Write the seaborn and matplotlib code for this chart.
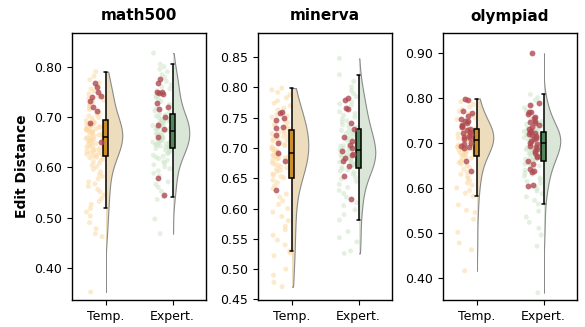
# -*- coding: utf-8 -*-

# Gráfico tipo "raincloud": media violín + caja + puntos
import matplotlib
matplotlib.use("Agg")
import matplotlib.pyplot as plt
import pandas as pd
import seaborn as sns
from matplotlib.patches import Rectangle

# ------------------ Datos ------------------
groups = ["Temp.", "Expert."]
datasets = ["math500", "minerva", "olympiad"]

math500_temp = [0.352, 0.462, 0.468, 0.478, 0.490, 0.503, 0.511, 0.518, 0.526, 0.532, 0.538, 0.545,
                0.551, 0.556, 0.562, 0.567, 0.571, 0.577, 0.582, 0.586, 0.591, 0.596,
                0.601, 0.604, 0.608, 0.611, 0.614, 0.617, 0.619, 0.620,
                0.622, 0.623, 0.625, 0.626, 0.628, 0.629, 0.631, 0.632, 0.634, 0.635, 0.637, 0.638,
                0.640, 0.641, 0.643, 0.644, 0.646, 0.647, 0.649, 0.651, 0.652, 0.653, 0.654, 0.655,
                0.656, 0.657, 0.658, 0.659, 0.660,
                0.662, 0.663, 0.664, 0.665, 0.666, 0.667, 0.668, 0.669, 0.670, 0.671, 0.672, 0.673,
                0.674, 0.675, 0.676, 0.677, 0.678, 0.679, 0.680, 0.681, 0.682, 0.683, 0.684, 0.685,
                0.686, 0.687, 0.689, 0.691, 0.693,
                0.697, 0.699, 0.702, 0.705, 0.708, 0.711, 0.715, 0.718, 0.722, 0.726, 0.729, 0.733,
                0.737, 0.741, 0.746, 0.751, 0.756, 0.762, 0.768, 0.774, 0.781, 0.790]
math500_temp_hl = [0.767, 0.759, 0.749, 0.742, 0.739, 0.732, 0.720, 0.712, 0.688, 0.650]

math500_expert = [0.468, 0.497, 0.536, 0.541, 0.552, 0.560, 0.566, 0.571, 0.583, 0.588, 0.593, 0.597,
                  0.601, 0.605, 0.608, 0.611, 0.614, 0.617, 0.620, 0.622, 0.624, 0.627, 0.629, 0.631,
                  0.632, 0.634, 0.636, 0.637,
                  0.639, 0.640, 0.641, 0.642, 0.643, 0.644, 0.645, 0.646, 0.647, 0.648, 0.649, 0.650,
                  0.651, 0.652, 0.653, 0.654, 0.655, 0.656, 0.657, 0.658, 0.659, 0.660, 0.663, 0.664,
                  0.666, 0.667, 0.669, 0.670, 0.672,
                  0.674, 0.675, 0.677, 0.678, 0.679, 0.680, 0.681, 0.682, 0.683, 0.685, 0.686, 0.687,
                  0.688, 0.689, 0.690, 0.691, 0.692, 0.693, 0.694, 0.695, 0.696, 0.697, 0.698, 0.700,
                  0.702, 0.704, 0.706,
                  0.709, 0.712, 0.717, 0.722, 0.725, 0.731, 0.735, 0.739, 0.742, 0.752, 0.756, 0.760,
                  0.764, 0.771, 0.779, 0.784, 0.790, 0.795, 0.800, 0.805, 0.827]
math500_expert_hl = [0.775, 0.767, 0.749, 0.749, 0.748, 0.745, 0.728, 0.720, 0.715, 0.699, 0.684,
                     0.676, 0.661, 0.578, 0.545]

minerva_temp = [0.471, 0.478, 0.490, 0.500, 0.522, 0.527, 0.530, 0.540, 0.548, 0.556, 0.565, 0.571,
                0.580, 0.587, 0.594, 0.600, 0.607, 0.613, 0.619, 0.624, 0.633, 0.638, 0.643, 0.647,
                0.651, 0.653, 0.655, 0.657, 0.659, 0.661, 0.663, 0.665, 0.667, 0.669, 0.671, 0.673,
                0.675, 0.677, 0.680, 0.682, 0.683, 0.684, 0.685, 0.686, 0.687, 0.688, 0.689,
                0.693, 0.694, 0.695, 0.697, 0.698, 0.700, 0.702, 0.704, 0.706, 0.710, 0.712, 0.713,
                0.715, 0.716, 0.718, 0.719, 0.720, 0.724, 0.725, 0.726, 0.727, 0.728, 0.730,
                0.732, 0.736, 0.738, 0.740, 0.742, 0.744, 0.751, 0.753, 0.755, 0.763, 0.766, 0.770,
                0.774, 0.778, 0.783, 0.788, 0.792, 0.796, 0.799]
minerva_temp_hl = [0.760, 0.758, 0.749, 0.747, 0.734, 0.733, 0.722, 0.708, 0.691, 0.679, 0.630]

minerva_expert = [0.526, 0.530, 0.545, 0.552, 0.562, 0.581, 0.590, 0.598, 0.605, 0.610, 0.619, 0.625,
                  0.630, 0.635, 0.640, 0.645, 0.649, 0.652, 0.657, 0.660, 0.662, 0.664, 0.666,
                  0.668, 0.669, 0.671, 0.672, 0.674, 0.675, 0.676, 0.677, 0.679, 0.680, 0.681, 0.682,
                  0.684, 0.685, 0.686, 0.687, 0.689, 0.692, 0.694,
                  0.697, 0.698, 0.699, 0.701, 0.702, 0.703, 0.704, 0.707, 0.708, 0.710, 0.713, 0.715,
                  0.716, 0.720, 0.722, 0.724, 0.725, 0.727, 0.729, 0.730,
                  0.734, 0.736, 0.738, 0.743, 0.745, 0.748, 0.751, 0.754, 0.757, 0.760, 0.770, 0.773,
                  0.776, 0.785, 0.790, 0.795, 0.801, 0.810, 0.821, 0.848]
minerva_expert_hl = [0.782, 0.779, 0.766, 0.764, 0.741, 0.731, 0.718, 0.712, 0.705, 0.700, 0.695,
                     0.690, 0.688, 0.683, 0.678, 0.670, 0.654, 0.615]

olympiad_temp = [0.415, 0.462, 0.477, 0.501, 0.530, 0.545, 0.550, 0.562, 0.581, 0.588, 0.594, 0.600,
                 0.606, 0.611, 0.616, 0.621, 0.626, 0.630, 0.635, 0.641, 0.645, 0.649, 0.653, 0.656,
                 0.659, 0.663, 0.666, 0.668,
                 0.671, 0.673, 0.675, 0.676, 0.678, 0.679, 0.680, 0.682, 0.683, 0.684, 0.685, 0.686,
                 0.687, 0.689, 0.691, 0.692, 0.694, 0.695, 0.696, 0.698, 0.699, 0.701, 0.703, 0.705,
                 0.707,
                 0.709, 0.711, 0.712, 0.714, 0.715, 0.717, 0.718, 0.720, 0.721, 0.723, 0.724, 0.726,
                 0.727, 0.729, 0.730, 0.709, 0.712, 0.716, 0.719, 0.722, 0.726, 0.729,
                 0.732, 0.734, 0.737, 0.740, 0.743, 0.746, 0.749, 0.752, 0.756, 0.761, 0.765, 0.770,
                 0.775, 0.780, 0.786, 0.792, 0.797]
olympiad_temp_hl = [0.799, 0.795, 0.772, 0.766, 0.760, 0.754, 0.750, 0.748, 0.745, 0.741, 0.738,
                    0.735, 0.731, 0.728, 0.725, 0.722, 0.719, 0.716, 0.713, 0.710, 0.708, 0.700,
                    0.697, 0.693, 0.690, 0.688, 0.660, 0.638]

olympiad_expert = [0.366, 0.470, 0.495, 0.510, 0.523, 0.535, 0.548, 0.564, 0.572, 0.580, 0.587, 0.593,
                   0.598, 0.603, 0.610, 0.614, 0.618, 0.622, 0.626, 0.630, 0.633, 0.639, 0.643, 0.646,
                   0.649, 0.653, 0.655, 0.657,
                   0.661, 0.662, 0.664, 0.665, 0.667, 0.669, 0.670, 0.671, 0.673, 0.674, 0.676, 0.677,
                   0.679, 0.680, 0.681, 0.683, 0.684, 0.685, 0.687, 0.688, 0.689, 0.691, 0.692, 0.695,
                   0.698,
                   0.701, 0.702, 0.703, 0.704, 0.706, 0.707, 0.709, 0.710, 0.711, 0.712, 0.713, 0.714,
                   0.716, 0.717, 0.718, 0.719, 0.720, 0.721, 0.722, 0.723, 0.724, 0.702, 0.705, 0.709,
                   0.714, 0.719,
                   0.726, 0.728, 0.731, 0.733, 0.737, 0.739, 0.742, 0.744, 0.748, 0.752, 0.757, 0.762,
                   0.772, 0.778, 0.784, 0.795, 0.801, 0.808]
olympiad_expert_hl = [0.900, 0.790, 0.785, 0.770, 0.768, 0.765, 0.758, 0.755, 0.750, 0.747, 0.745,
                      0.740, 0.735, 0.730, 0.727, 0.725, 0.722, 0.720, 0.717, 0.715, 0.712, 0.708,
                      0.705, 0.700, 0.697, 0.693, 0.690, 0.686, 0.682, 0.678, 0.672, 0.668, 0.660,
                      0.652, 0.641, 0.637, 0.635, 0.607, 0.605]

# límites y marcas del eje y de cada panel
ylims = [(0.336, 0.867), (0.449, 0.890), (0.350, 0.945)]
yticks = [[0.40, 0.50, 0.60, 0.70, 0.80],
          [0.45, 0.50, 0.55, 0.60, 0.65, 0.70, 0.75, 0.80, 0.85],
          [0.40, 0.50, 0.60, 0.70, 0.80, 0.90]]

# ------------------ Colores ------------------
violin_colors = {"Temp.": "#f6dfb4", "Expert.": "#d8e8d4"}
box_colors = {"Temp.": "#e8940c", "Expert.": "#4a8f50"}
point_colors = {"Temp.": "#fdd9a3", "Expert.": "#cfe6ca"}
hl_color = "#b04a52"


def make_frame(temp, expert):
    return pd.DataFrame({"group": ["Temp."] * len(temp) + ["Expert."] * len(expert),
                         "value": list(temp) + list(expert)})


def shift_points(ax, n_before, dx):
    # desplaza los puntos a la izquierda de la caja
    for coll in ax.collections[n_before:]:
        off = coll.get_offsets()
        off[:, 0] = off[:, 0] + dx
        coll.set_offsets(off)


def draw_panel(ax, temp, temp_hl, expert, expert_hl):
    df_all = make_frame(list(temp) + list(temp_hl), list(expert) + list(expert_hl))

    # media violín (se recorta la mitad izquierda)
    n0 = len(ax.collections)
    sns.violinplot(data=df_all, x="group", y="value", hue="group", order=groups, hue_order=groups,
                   palette=violin_colors, inner=None, cut=0, width=0.5, density_norm="width",
                   linewidth=0.8, linecolor="#8a8a8a", legend=False, ax=ax)
    for i, coll in enumerate(ax.collections[n0:]):
        clip = Rectangle((i, -10), 1, 20, transform=ax.transData)
        coll.set_clip_path(clip)
        coll.set_zorder(1)

    # caja
    sns.boxplot(data=df_all, x="group", y="value", hue="group", order=groups, hue_order=groups,
                palette=box_colors, width=0.075, showfliers=False, linewidth=1.1, linecolor="black",
                legend=False, ax=ax, zorder=3)

    # puntos de fondo
    n1 = len(ax.collections)
    sns.stripplot(data=make_frame(temp, expert), x="group", y="value", hue="group", order=groups,
                  hue_order=groups, palette=point_colors, jitter=0.14, size=3.6, alpha=0.55,
                  linewidth=0, legend=False, ax=ax, zorder=2)
    shift_points(ax, n1, -0.155)

    # puntos destacados
    n2 = len(ax.collections)
    sns.stripplot(data=make_frame(temp_hl, expert_hl), x="group", y="value", order=groups,
                  color=hl_color, jitter=0.09, size=4.2, alpha=0.8, linewidth=0, ax=ax, zorder=4)
    shift_points(ax, n2, -0.15)


sns.set_style("ticks", rc={"axes.edgecolor": "black", "text.color": "black",
                           "axes.labelcolor": "black", "xtick.color": "black",
                           "ytick.color": "black"})
plt.rcParams["font.family"] = ["DejaVu Sans"]

fig = plt.figure(figsize=(5.85, 3.27), dpi=100)
lefts = [72 / 585, 258 / 585, 443 / 585]
panels = [(math500_temp, math500_temp_hl, math500_expert, math500_expert_hl),
          (minerva_temp, minerva_temp_hl, minerva_expert, minerva_expert_hl),
          (olympiad_temp, olympiad_temp_hl, olympiad_expert, olympiad_expert_hl)]

for k, name in enumerate(datasets):
    ax = fig.add_axes([lefts[k], 27 / 327, 134 / 585, 267 / 327])
    draw_panel(ax, *panels[k])
    ax.set_xlim(-0.5, 1.5)
    ax.set_ylim(*ylims[k])
    ax.set_yticks(yticks[k])
    ax.set_yticklabels(["%.2f" % t for t in yticks[k]])
    ax.tick_params(axis="both", labelsize=9, length=3.5, width=0.8)
    ax.set_xlabel("")
    ax.set_ylabel("")
    for s in ax.spines.values():
        s.set_linewidth(1.0)
    ax.set_title(name, fontsize=11, fontweight="bold", pad=9)
    if k == 0:
        ax.set_ylabel("Edit Distance", fontsize=10, fontweight="bold")

fig.savefig("out.png", dpi=100)
